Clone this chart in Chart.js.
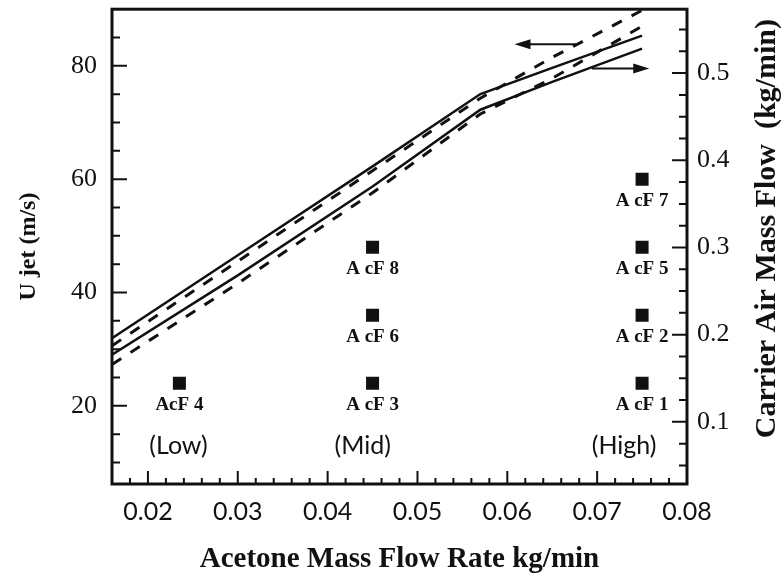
<!DOCTYPE html>
<html>
<head>
<meta charset="utf-8">
<script src="https://cdn.jsdelivr.net/npm/chart.js@4.4.0/dist/chart.umd.min.js"></script>
<style>
  html, body { margin: 0; padding: 0; background: #fff; }
  #wrap { width: 784px; height: 580px; }
</style>
</head>
<body>
<div id="wrap"><canvas id="chart" width="784" height="580"></canvas></div>
<script>
// acetone flow (kg/min) where the operating curves were evaluated
const flowPts = [0.016, 0.03, 0.045, 0.057, 0.065, 0.075];
// jet velocity curves, left axis (m/s)
const ujetHi = [30.6, 45.5, 61.5, 74.3, 81.5, 89.8];
const ujetLo = [27.3, 41.6, 57.6, 71.5, 77.8, 87.0];
// carrier air curves, right axis (kg/min)
const airHi = [0.196, 0.291, 0.393, 0.476, 0.506, 0.543];
const airLo = [0.177, 0.268, 0.370, 0.458, 0.490, 0.528];

// test cases
const caseNames = ['AcF 4', 'A cF 3', 'A cF 6', 'A cF 8', 'A cF 1', 'A cF 2', 'A cF 5', 'A cF 7'];
const caseFlow = [0.0235, 0.045, 0.045, 0.045, 0.075, 0.075, 0.075, 0.075];
const caseUjet = [24, 24, 36, 48, 24, 36, 48, 60];

const groupNames = ['(Low)', '(Mid)', '(High)'];
const groupFlow = [0.0234, 0.0439, 0.0730];
const groupUjet = [13, 13, 13];

// axis ticks
const xTicks = [0.02, 0.03, 0.04, 0.05, 0.06, 0.07, 0.08];
const yTicks = [20, 40, 60, 80];
const y1Ticks = [0.1, 0.2, 0.3, 0.4, 0.5];

function steps(from, to, step) {
    const out = [];
    for (let i = 0; from + i * step <= to + 1e-9; i++) out.push(+(from + i * step).toFixed(4));
    return out;
}

const ink = '#111';

function pts(ys) {
    return flowPts.map((x, i) => ({ x, y: ys[i] }));
}

function fixTicks(list) {
    return scale => { scale.ticks = list.map(value => ({ value })); };
}

// tick marks point inwards, so the frame and all ticks are drawn by hand
const frame = {
    id: 'frame',
    afterDatasetsDraw(chart) {
        const { ctx, chartArea: a, scales: { x, y, y1 } } = chart;
        ctx.save();
        ctx.strokeStyle = ink;
        ctx.fillStyle = ink;

        ctx.lineWidth = 2;
        ctx.beginPath();
        steps(10, 85, 5).forEach(v => {
            const p = y.getPixelForValue(v);
            const len = yTicks.includes(v) ? 15 : 8;
            ctx.moveTo(a.left, p); ctx.lineTo(a.left + len, p);
        });
        steps(0.05, 0.55, 0.025).forEach(v => {
            const p = y1.getPixelForValue(v);
            const len = y1Ticks.some(t => Math.abs(t - v) < 1e-6) ? 15 : 8;
            ctx.moveTo(a.right, p); ctx.lineTo(a.right - len, p);
        });
        steps(0.018, 0.078, 0.002).forEach(v => {
            const p = x.getPixelForValue(v);
            const len = xTicks.some(t => Math.abs(t - v) < 1e-6) ? 13 : 6;
            ctx.moveTo(p, a.bottom); ctx.lineTo(p, a.bottom - len);
        });
        ctx.stroke();

        ctx.lineWidth = 3;
        ctx.strokeRect(a.left, a.top, a.right - a.left, a.bottom - a.top);

        // case labels under the markers
        ctx.font = 'bold 19px "Liberation Serif"';
        ctx.textAlign = 'center';
        ctx.textBaseline = 'middle';
        caseNames.forEach((t, i) => {
            ctx.fillText(t, x.getPixelForValue(caseFlow[i]), y.getPixelForValue(caseUjet[i]) + 22);
        });

        ctx.font = '25px Lato';
        groupNames.forEach((t, i) => {
            ctx.fillText(t, x.getPixelForValue(groupFlow[i]), y.getPixelForValue(groupUjet[i]));
        });

        // arrows telling which axis each pair of curves belongs to
        ctx.lineWidth = 2;
        const arrow = (x0, x1, py) => {
            const dir = Math.sign(x1 - x0);
            ctx.beginPath();
            ctx.moveTo(x0, py); ctx.lineTo(x1 - dir * 12, py);
            ctx.stroke();
            ctx.beginPath();
            ctx.moveTo(x1, py);
            ctx.lineTo(x1 - dir * 16, py - 5);
            ctx.lineTo(x1 - dir * 16, py + 5);
            ctx.closePath();
            ctx.fill();
        };
        arrow(x.getPixelForValue(0.0677), x.getPixelForValue(0.0608), y.getPixelForValue(83.8));
        arrow(x.getPixelForValue(0.0694), x.getPixelForValue(0.0758), y1.getPixelForValue(0.5054));

        // right axis title reads bottom to top like the left one
        ctx.font = 'bold 30px "Liberation Serif"';
        ctx.translate(767, (a.top + a.bottom) / 2 - 18);
        ctx.rotate(-Math.PI / 2);
        ctx.fillText('Carrier Air Mass Flow  (kg/min)', 0, 0);
        ctx.restore();
    }
};

const serif = { family: '"Liberation Serif"', size: 26 };

function curve(ys, axis, dashed) {
    return {
        data: pts(ys),
        yAxisID: axis,
        showLine: true,
        borderColor: ink,
        borderWidth: dashed ? 3 : 2.5,
        borderDash: dashed ? [11, 11] : [],
        pointRadius: 0,
    };
}

new Chart(document.getElementById('chart'), {
    type: 'scatter',
    data: {
        datasets: [
            curve(ujetHi, 'y', true),
            curve(ujetLo, 'y', true),
            curve(airHi, 'y1', false),
            curve(airLo, 'y1', false),
            {
                data: caseFlow.map((x, i) => ({ x, y: caseUjet[i] })),
                yAxisID: 'y',
                pointStyle: 'rect',
                pointRadius: 9.2,
                backgroundColor: ink,
                borderWidth: 0,
            },
        ],
    },
    options: {
        responsive: false,
        animation: false,
        layout: { padding: { top: 3, left: 0, right: 0, bottom: 0 } },
        plugins: { legend: { display: false }, tooltip: { enabled: false } },
        scales: {
            x: {
                type: 'linear',
                min: 0.016,
                max: 0.08,
                afterBuildTicks: fixTicks(xTicks),
                afterFit: s => { s.height = 96; s.paddingLeft = 0; s.paddingRight = 0; },
                grid: { display: false, drawTicks: false },
                border: { display: false },
                ticks: { color: ink, padding: 13, font: { family: 'Lato', size: 25 }, callback: v => v.toFixed(2) },
                title: {
                    display: true,
                    text: 'Acetone Mass Flow Rate kg/min',
                    color: ink,
                    font: { family: '"Liberation Serif"', size: 29, weight: 'bold' },
                    padding: { top: 0, bottom: 3 },
                },
            },
            y: {
                position: 'left',
                min: 6.2,
                max: 90,
                afterBuildTicks: fixTicks(yTicks),
                afterFit: s => { s.width = 112; s.paddingTop = 0; s.paddingBottom = 0; },
                grid: { display: false, drawTicks: false },
                border: { display: false },
                ticks: { color: ink, padding: 15, font: serif },
                title: {
                    display: true,
                    text: 'U jet (m/s)',
                    color: ink,
                    font: { family: '"Liberation Serif"', size: 24, weight: 'bold' },
                    padding: { top: 14, bottom: 0 },
                },
            },
            y1: {
                position: 'right',
                min: 0.0287,
                max: 0.5733,
                afterBuildTicks: fixTicks(y1Ticks),
                afterFit: s => { s.width = 97; s.paddingTop = 0; s.paddingBottom = 0; },
                grid: { display: false, drawTicks: false },
                border: { display: false },
                ticks: { color: ink, padding: 10, font: serif, callback: v => v.toFixed(1) },
            },
        },
    },
    plugins: [frame],
});
</script>
</body>
</html>
